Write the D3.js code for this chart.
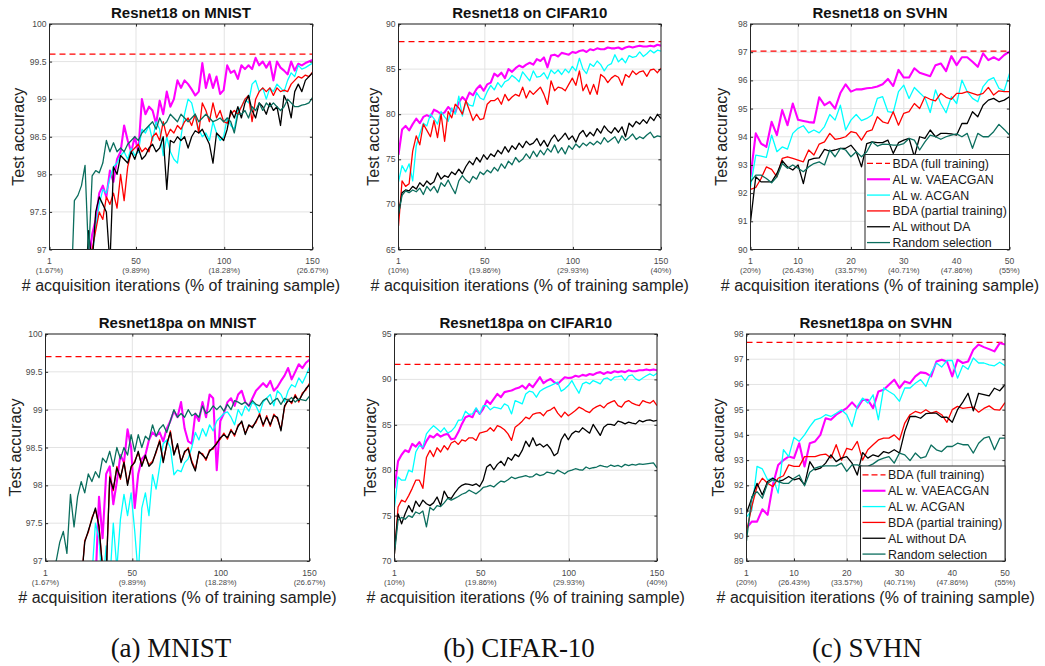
<!DOCTYPE html>
<html><head><meta charset="utf-8">
<script src="https://cdn.jsdelivr.net/npm/d3@7"></script>
<style>
body{margin:0;background:#fff;}
svg text{font-family:"Liberation Sans",Arial,Helvetica,sans-serif;}
</style></head><body>
<svg id="chart" width="1045" height="666"></svg>
<script>
// ---------- categories / tick labels ----------
const seriesNames = ["BDA (full training)","AL w. VAEACGAN","AL w. ACGAN","BDA (partial training)","AL without DA","Random selection"];
const iters150 = d3.range(75).map(i => 1 + i * 149 / 74);   // sampled acquisition iterations 1..150
const iters50 = d3.range(1, 51);                              // acquisition iterations 1..50
const xTicks150 = [1, 50, 100, 150];
const xTicks50 = [1, 10, 20, 30, 40, 50];
const pctMnist = ["(1.67%)","(9.89%)","(18.28%)","(26.67%)"];
const pctCifar = ["(10%)","(19.86%)","(29.93%)","(40%)"];
const pctSvhn = ["(20%)","(26.43%)","(33.57%)","(40.71%)","(47.86%)","(55%)"];
const yTicksMnist = [97, 97.5, 98, 98.5, 99, 99.5, 100];
const yTicksCifarTop = [65, 70, 75, 80, 85, 90];
const yTicksCifarBot = [70, 75, 80, 85, 90, 95];
const yTicksSvhnTop = [90, 91, 92, 93, 94, 95, 96, 97, 98];
const yTicksSvhnBot = [89, 90, 91, 92, 93, 94, 95, 96, 97, 98];

// ---------- Resnet18 on MNIST ----------
const p1Full = 99.6;
const p1Vae = [96,96,96,96,96,96,96,96,96,96,96,
96.8,97.2,97.4,97.75,97.85,97.7,98.05,97.9,98.2,98.3,
98.65,98.45,98.3,98.5,98.3,99.0,98.8,98.9,98.85,98.67,
98.98,98.8,99.1,98.9,99.0,99.25,99.15,99.25,99.2,99.13,
99.05,99.1,99.48,99.15,99.33,99.15,99.3,99.07,99.12,99.45,
99.35,99.38,99.27,99.45,99.4,99.45,99.4,99.55,99.45,99.5,
99.42,99.5,99.25,99.5,99.42,99.38,99.33,99.5,99.38,99.47,
99.45,99.48,99.5,99.52];
const p1Acgan = [96,96,96,96,96,96,96,96,96,96,96,96,
96.9,97.3,97.6,97.8,97.75,97.95,98.1,98.15,98.25,98.3,
98.2,98.35,98.25,98.3,98.6,98.55,98.65,98.45,98.7,98.6,
98.25,98.5,98.3,98.2,98.15,98.5,98.8,99.0,98.95,98.75,
98.6,98.5,98.55,98.45,98.7,98.55,98.45,98.5,98.75,98.65,
98.6,98.85,98.9,99.0,98.95,99.2,99.25,99.1,99.15,99.0,
99.15,99.1,99.2,99.15,99.1,99.25,99.35,99.3,99.45,99.4,
99.42,99.45,99.48];
const p1Bda = [96,96,96,96,96,96,96,96,96,96,96,
96.6,97.0,97.25,97.5,97.4,97.7,97.6,97.75,97.55,98.0,
97.65,98.1,98.3,98.35,98.4,98.3,98.35,98.3,98.5,98.55,
98.45,98.7,98.5,98.6,98.55,98.65,98.6,98.7,98.75,98.65,
98.8,98.55,98.95,98.85,98.7,98.95,98.75,98.85,98.7,98.68,
98.8,98.85,98.8,98.9,99.0,99.05,98.7,99.0,99.1,99.15,
99.1,99.15,99.05,99.15,99.1,99.12,99.1,99.2,99.25,99.3,
99.28,99.32,99.3,99.36];
const p1NoDa = [96,96,96,96,96,96,96,96,96,96,
96.4,97.25,96.8,97.5,97.7,97.6,97.5,96.8,98.1,98.0,
98.25,98.2,98.15,98.3,98.2,98.35,98.2,98.25,98.35,98.4,
98.3,98.35,98.5,97.8,98.45,98.42,98.5,98.45,98.5,98.35,
98.5,98.58,98.55,98.6,98.5,98.4,98.15,98.55,98.5,98.45,
98.6,98.85,98.75,98.9,98.75,98.95,99.05,98.85,98.75,98.95,
98.9,98.8,98.95,98.85,98.9,98.65,99.05,98.95,98.75,99.1,
99.2,99.1,99.25,99.3,99.35];
const p1Rand = [96,96,96,96,96,96,
96.3,97.65,97.72,97.85,98.12,96.9,97.98,98.05,98.02,
98.15,98.45,98.3,98.42,98.3,98.35,98.3,98.4,98.45,98.5,
98.45,98.55,98.6,98.65,98.7,98.6,98.75,98.65,98.7,98.8,
98.75,98.7,98.8,98.75,98.7,98.75,98.8,98.7,98.75,98.8,
98.75,98.7,98.72,98.75,98.7,98.75,98.7,98.55,98.8,98.8,
98.85,98.75,98.9,98.85,98.95,98.85,98.95,98.9,98.95,98.9,
98.85,98.9,99.0,98.95,98.9,98.9,98.92,98.93,98.95,99.02];

// ---------- Resnet18 on CIFAR10 ----------
const p2Full = 88.05;
const p2Vae = [75.5,78.3,78.7,78.2,78.9,79.5,79.0,79.7,79.9,79.7,
80.5,80.3,80.0,80.2,80.8,80.4,80.2,81.3,81.9,81.5,
82.4,82.1,82.8,83.2,82.6,83.3,83.5,84.5,84.2,84.6,
84.0,85.0,84.7,85.1,85.4,85.2,85.5,85.7,85.5,86.1,
85.9,86.3,85.2,86.5,86.6,86.4,86.8,86.7,86.6,86.9,
86.8,87.0,87.1,86.9,87.2,87.1,87.3,87.2,87.2,87.4,
87.3,87.3,87.4,87.2,87.4,87.5,87.4,87.5,87.6,87.5,
87.5,87.6,87.5,87.7,87.6];
const p2Acgan = [72.5,74.3,73.6,74.5,72.6,76.5,77.8,79.0,78.7,80.0,
79.5,78.9,80.3,79.7,79.2,80.7,80.0,82.0,79.8,81.4,
81.0,80.9,82.4,81.8,81.6,82.5,83.2,82.7,83.5,83.0,
83.6,83.8,84.3,84.0,83.6,84.7,84.2,83.7,84.8,84.1,
84.2,84.6,83.9,84.9,84.5,84.9,84.4,85.0,84.6,85.3,
84.8,86.2,85.0,84.5,85.6,85.3,85.9,85.5,84.8,85.4,
85.6,86.6,85.8,86.2,85.7,86.5,86.3,86.4,86.9,86.4,
86.7,87.1,86.8,87.1,87.0];
const p2Bda = [67.6,72.6,72.0,72.3,75.9,77.6,76.6,78.9,78.2,77.5,
79.3,77.4,80.0,77.0,80.3,79.6,81.1,80.7,80.0,81.5,
80.4,79.3,80.0,79.4,79.5,81.1,81.5,81.5,81.8,81.1,
82.2,81.5,81.9,82.2,82.0,83.0,81.8,82.6,82.2,82.6,
83.0,82.2,81.1,83.7,82.6,83.0,82.9,82.6,83.3,84.0,
83.2,84.8,82.6,83.3,82.2,83.3,82.2,84.4,84.1,83.5,
84.0,84.3,84.1,83.2,84.4,84.1,84.8,84.4,84.7,84.8,
84.2,84.9,85.0,84.6,85.1];
const p2NoDa = [68.9,71.3,71.6,71.5,72.0,71.7,72.4,72.0,72.6,72.2,
72.5,73.5,72.8,73.2,73.0,73.6,73.3,73.9,73.4,74.2,
74.8,74.4,75.2,74.7,75.5,75.0,75.6,75.3,76.0,75.6,
76.4,75.8,76.5,76.1,76.8,76.3,77.0,76.6,76.8,77.3,
76.5,77.1,76.4,77.2,77.7,77.0,77.4,77.9,77.2,77.6,
76.9,77.8,78.2,77.5,78.0,77.6,78.4,77.9,78.7,78.2,
77.9,78.5,78.0,78.6,77.5,79.0,78.6,79.2,78.9,79.4,
79.0,79.7,79.3,80.0,79.5];
const p2Rand = [68.9,71.0,71.5,71.3,71.6,71.4,71.8,71.1,72.0,71.5,
72.0,71.3,72.4,72.0,72.7,71.9,71.2,72.6,73.2,72.7,
72.4,73.1,72.8,73.6,73.3,73.8,73.5,74.1,73.7,74.5,
74.0,74.8,74.4,75.2,74.7,75.0,75.6,75.1,75.9,75.3,
76.0,75.5,76.2,75.8,76.6,75.7,76.3,75.6,76.5,76.1,
76.7,76.3,76.8,76.5,76.9,76.6,77.0,76.7,77.4,76.9,
77.2,77.5,76.8,77.6,77.1,77.4,77.8,77.2,77.5,77.3,
77.7,78.0,77.4,77.6,77.5];

// ---------- Resnet18 on SVHN ----------
const p3Full = 97.04;
const p3Vae = [92.58,94.12,93.76,93.64,94.53,94.06,94.95,94.41,95.18,94.6,
94.56,94.52,94.5,95.4,95.12,95.24,95.0,95.55,95.86,95.6,
95.68,95.68,95.72,95.74,95.78,95.86,96.05,95.8,96.37,96.1,
96.1,96.43,96.27,96.21,96.15,96.54,96.6,96.33,96.86,96.54,
96.82,96.82,96.66,96.48,96.96,96.72,96.82,96.72,96.9,97.02];
const p3Acgan = [92.22,93.35,93.31,93.27,94.06,93.47,93.64,93.56,94.12,94.3,
94.39,94.14,94.24,94.14,94.36,94.79,94.59,95.12,94.24,94.59,
94.79,94.57,94.65,94.77,95.36,95.42,94.89,94.86,95.6,95.83,
95.36,95.75,95.56,95.38,94.86,95.66,95.18,94.85,95.42,95.18,
96.01,95.6,95.36,95.24,95.78,96.01,96.1,95.72,95.63,96.25];
const p3Bda = [92.13,92.2,92.52,92.93,92.84,92.58,93.23,93.29,93.23,93.17,
93.11,93.53,93.35,93.74,93.82,94.12,93.91,93.94,94.0,94.18,
94.14,93.88,94.18,94.24,94.71,94.53,94.47,94.89,94.41,94.83,
94.89,95.18,95.0,95.42,95.33,95.27,95.54,95.4,95.33,95.54,
95.54,95.6,95.54,95.48,95.54,95.75,95.48,95.63,95.6,95.6];
const p3NoDa = [90.98,92.58,92.4,92.4,92.4,92.7,93.15,92.93,92.82,93.0,
92.34,93.17,93.23,93.25,93.55,93.49,93.53,93.59,93.59,93.7,
93.47,92.93,93.76,93.82,93.79,93.79,93.88,93.41,93.79,93.88,
93.94,93.29,94.0,93.94,94.24,94.0,94.12,94.12,94.1,94.06,
94.47,94.47,94.89,94.71,95.12,95.3,95.36,95.24,95.3,95.42];
const p3Rand = [92.4,92.64,92.64,92.52,92.37,92.58,93.05,92.88,93.0,92.88,
92.76,92.93,93.05,93.11,93.0,93.53,93.29,93.59,93.53,93.29,
93.47,93.29,93.47,93.82,93.67,93.74,93.73,93.7,93.7,93.76,
93.94,93.88,93.53,93.82,94.06,94.0,93.91,94.0,94.06,94.1,
94.0,94.12,93.59,94.12,94.0,94.0,94.18,94.44,94.26,94.06];

// ---------- Resnet18pa on MNIST ----------
const p4Full = 99.7;
const p4Vae = [96.5,96.5,96.5,96.5,96.5,96.5,96.5,96.5,96.5,96.5,96.5,96.5,96.5,96.5,
96.7,97.85,97.3,98.15,98.25,97.75,98.05,98.4,98.3,98.74,
98.5,97.7,98.15,98.35,98.4,98.6,98.7,98.65,98.7,98.58,
98.75,98.85,98.98,98.9,99.1,98.75,98.58,98.55,98.95,98.85,
99.1,98.9,99.2,99.15,98.2,98.85,98.95,99.1,99.15,99.05,
99.2,99.25,99.1,99.05,99.15,99.25,99.3,99.35,99.3,99.38,
99.25,99.3,99.38,99.45,99.55,99.4,99.5,99.6,99.55,99.62,
99.66];
const p4Acgan = [96.5,96.5,96.5,96.5,96.5,96.5,96.5,96.5,96.5,96.5,96.5,96.5,96.5,
96.8,97.5,97.3,96.6,97.2,96.7,97.5,96.9,97.55,97.88,
97.6,97.9,97.4,96.8,97.7,97.9,97.6,98.14,97.95,98.25,
98.55,98.6,98.5,98.14,98.2,98.18,98.3,98.35,98.5,98.7,
98.6,98.75,98.65,98.8,98.72,98.85,98.9,98.95,98.97,98.9,
98.8,99.0,98.92,99.05,98.98,99.1,99.05,98.95,99.1,99.15,
99.2,99.05,99.25,99.2,99.1,99.25,99.33,99.3,99.42,99.35,
99.45,99.56];
const p4Bda = [96.5,96.5,96.5,96.5,96.5,96.5,96.5,96.5,96.5,96.5,
96.7,97.27,97.38,97.57,97.68,97.47,96.9,96.8,98.12,97.93,
98.25,98.08,98.32,98.02,98.23,98.32,98.43,98.27,98.38,98.27,
98.32,98.43,98.6,98.32,98.53,98.72,98.42,98.53,98.32,98.43,
98.5,98.32,98.21,98.43,98.42,98.33,98.47,98.48,98.57,98.61,
98.69,98.61,98.74,98.65,98.8,98.83,98.69,98.78,98.78,98.83,
98.95,98.78,98.92,98.78,98.94,98.88,98.74,99.03,99.14,99.08,
99.2,99.1,99.22,99.26,99.35];
const p4NoDa = [96.5,96.5,96.5,96.5,96.5,96.5,96.5,96.5,96.5,96.5,
96.7,97.25,97.4,97.55,97.7,97.45,96.9,96.8,98.1,97.95,
98.23,98.1,98.3,98.0,98.25,98.3,98.45,98.25,98.4,98.25,
98.3,98.45,98.58,98.3,98.55,98.7,98.4,98.55,98.3,98.45,
98.48,98.3,98.19,98.45,98.4,98.35,98.45,98.5,98.55,98.63,
98.67,98.63,98.72,98.67,98.78,98.85,98.67,98.8,98.76,98.85,
98.93,98.8,98.9,98.8,98.92,98.9,98.72,99.05,99.12,99.1,
99.18,99.12,99.2,99.28,99.33];
const p4Rand = [96.5,96.6,96.8,97.0,97.25,97.39,97.1,97.88,97.45,97.85,
98.05,97.9,98.15,98.05,98.18,98.1,98.36,98.3,98.45,98.25,
98.5,98.35,98.5,98.4,98.67,98.45,98.67,98.5,98.65,98.6,
98.8,98.65,98.75,98.8,98.7,98.85,99.0,98.9,98.95,98.9,
99.0,98.92,98.95,98.9,99.05,98.95,98.98,99.05,99.0,99.05,
98.98,99.07,99.0,99.12,99.1,99.07,99.1,99.05,99.12,99.07,
99.05,99.12,99.15,99.07,99.12,99.15,99.07,99.15,99.12,99.16,
99.1,99.14,99.13,99.12,99.18];

// ---------- Resnet18pa on CIFAR10 ----------
const p5Full = 91.65;
const p5Vae = [78.0,81.0,81.7,82.2,82.0,82.9,82.6,83.1,82.4,83.2,
83.8,83.6,84.0,83.7,83.9,84.0,83.4,83.5,84.2,85.1,
85.84,86.0,85.84,86.76,86.2,86.76,87.67,87.3,87.86,88.4,
88.04,88.6,88.7,88.77,88.96,89.07,89.32,88.96,89.5,89.14,
89.7,90.24,89.58,89.87,90.05,89.7,89.5,89.87,90.24,90.16,
90.2,90.4,90.3,90.5,90.4,90.6,90.5,90.7,90.8,90.6,
90.8,90.7,90.9,90.8,90.9,90.8,91.0,90.9,90.9,91.0,
91.0,91.1,91.0,91.1,91.0];
const p5Acgan = [75.95,79.25,78.9,78.9,80.0,79.8,82.0,82.7,82.55,84.0,
84.5,84.9,84.56,84.2,84.67,84.1,84.3,84.74,85.5,85.55,
86.5,86.14,86.2,86.87,86.2,87.1,87.1,86.65,86.94,86.87,
86.76,87.3,87.1,86.2,87.67,87.5,87.3,88.4,88.7,88.6,
88.04,88.7,88.96,89.14,89.32,89.5,89.7,88.7,88.96,89.32,
89.87,89.14,88.48,89.5,89.7,89.5,89.87,89.7,89.5,90.05,
90.16,89.87,90.24,90.3,90.4,89.87,90.4,90.5,90.05,89.87,
90.16,90.4,90.6,90.4,90.68];
const p5Bda = [70.8,75.95,76.7,76.5,77.2,78.0,78.9,78.9,78.0,81.4,
82.18,81.5,82.47,82.0,82.7,82.25,83.0,83.2,82.84,83.35,
83.2,83.57,83.57,83.28,84.08,84.2,84.3,84.67,84.3,84.9,
84.74,84.45,84.0,83.28,84.74,85.04,85.4,85.84,85.66,86.14,
86.28,86.35,86.0,86.5,86.65,86.94,86.28,85.84,86.4,86.0,
86.28,86.57,86.94,86.76,86.5,86.35,86.76,87.0,87.16,86.87,
87.3,87.5,87.67,87.12,86.94,87.5,87.67,87.38,87.23,87.12,
87.67,87.5,87.38,87.67,87.12];
const p5NoDa = [71.2,75.2,74.1,75.2,76.1,75.4,76.6,76.0,76.7,76.3,
76.1,76.4,77.05,76.1,77.7,77.0,76.9,77.5,78.0,78.33,
78.5,78.44,78.33,78.5,78.2,78.9,80.35,80.64,80.05,80.64,
81.0,80.5,81.4,81.1,81.74,81.5,82.18,83.2,82.6,83.57,
82.7,82.9,82.55,82.84,82.36,81.6,81.9,83.35,84.0,83.35,
84.0,84.3,84.2,84.67,84.38,84.08,85.04,84.45,83.83,84.74,
85.04,85.04,84.93,85.4,85.3,85.1,85.3,85.18,85.1,85.48,
85.33,85.48,85.55,85.4,85.48];
const p5Rand = [70.8,74.5,74.8,74.6,75.0,74.8,75.4,75.2,75.5,73.75,
75.9,75.6,76.1,76.0,76.4,76.9,76.7,76.9,77.1,77.35,
77.5,77.8,77.6,77.4,77.7,78.1,78.2,78.33,78.15,78.5,
78.8,78.7,78.95,79.25,79.07,79.2,79.3,79.4,79.25,79.3,
79.6,79.4,79.5,79.8,79.7,79.6,80.0,79.8,79.6,79.9,
80.0,80.16,80.05,80.0,80.35,80.16,80.27,80.35,80.53,80.42,
80.35,80.57,80.42,80.53,80.35,80.64,80.5,80.64,80.57,80.7,
80.64,80.7,80.75,80.8,80.27];

// ---------- Resnet18pa on SVHN ----------
const p6Full = 97.67;
const p6Vae = [90.3,90.56,90.56,91.05,90.83,92.02,92.81,93.0,93.14,93.08,
93.67,92.75,93.67,93.74,94.0,94.66,94.6,94.8,94.93,95.06,
95.29,95.06,95.39,95.39,95.06,95.72,95.79,95.99,96.19,95.86,
96.12,96.05,96.32,96.48,96.45,96.32,96.91,96.98,96.91,96.32,
96.98,96.85,96.91,97.38,97.58,97.48,97.4,97.31,97.64,97.58];
const p6Acgan = [90.75,91.0,92.75,92.65,92.22,92.3,91.69,93.41,93.14,93.9,
93.74,94.0,94.33,94.6,94.66,94.8,94.73,94.86,95.0,94.8,
94.33,95.13,95.46,95.26,95.59,94.6,95.86,95.72,95.59,95.33,
95.86,95.86,96.05,96.19,95.92,96.45,96.85,96.69,96.95,96.95,
96.25,96.75,96.6,97.05,96.85,96.85,96.78,96.74,96.88,96.74];
const p6Bda = [90.15,91.16,91.95,92.28,92.08,91.95,92.28,92.38,92.81,92.75,
92.75,93.14,93.14,93.14,93.21,93.24,93.08,93.61,93.0,93.47,
93.41,93.74,93.0,93.41,93.61,93.8,93.87,93.87,94.0,93.8,
94.47,94.8,94.93,94.86,95.0,94.86,94.93,94.8,94.5,95.0,
95.13,95.05,95.08,95.1,94.9,95.05,95.15,95.0,94.98,95.28];
const p6NoDa = [90.9,91.49,92.08,91.62,92.15,92.28,92.15,92.22,92.35,92.22,
92.28,92.02,92.94,92.61,92.68,92.88,93.21,92.94,93.08,93.14,
92.88,92.41,93.3,93.08,93.21,93.14,93.34,93.28,93.41,93.28,
94.14,94.73,94.73,94.66,94.84,94.86,94.86,94.7,94.7,94.5,
95.0,95.3,95.65,94.95,95.65,95.6,95.55,95.85,95.75,95.99];
const p6Rand = [89.8,91.55,91.75,91.49,92.08,92.22,92.15,92.08,92.08,92.28,
92.41,91.98,92.52,92.68,92.75,92.77,92.77,92.77,92.88,92.55,
92.81,92.81,92.75,92.75,92.85,93.0,93.08,93.14,92.88,93.28,
93.21,92.98,93.28,93.08,93.14,93.6,93.41,93.34,93.54,93.54,
93.67,93.61,93.61,93.28,93.67,93.87,93.93,93.41,93.87,93.87];

// ---------- styles ----------
const colors = ["#ff0000", "#ff00ff", "#00ffff", "#ff0000", "#000000", "#0b6e5e"];
const widths = [1.2, 2.1, 1.3, 1.3, 1.3, 1.3];

const panels = [
  {id:1, title:"Resnet18 on MNIST", L:49.5, T:24, R:312.5, B:249.5, x:iters150, xd:[1,150], xt:xTicks150, pct:pctMnist, yd:[97,100], yt:yTicksMnist, full:p1Full, s:[p1Vae,p1Acgan,p1Bda,p1NoDa,p1Rand], legend:false, ylx:18.5},
  {id:2, title:"Resnet18 on CIFAR10", L:398.5, T:24, R:661, B:249.5, x:iters150, xd:[1,150], xt:xTicks150, pct:pctCifar, yd:[65,90], yt:yTicksCifarTop, full:p2Full, s:[p2Vae,p2Acgan,p2Bda,p2NoDa,p2Rand], legend:false, ylx:373.5},
  {id:3, title:"Resnet18 on SVHN", L:750.5, T:24, R:1009.5, B:249.5, x:iters50, xd:[1,50], xt:xTicks50, pct:pctSvhn, yd:[90,98], yt:yTicksSvhnTop, full:p3Full, s:[p3Vae,p3Acgan,p3Bda,p3NoDa,p3Rand], legend:true, ylx:721.5},
  {id:4, title:"Resnet18pa on MNIST", L:45.5, T:334, R:309.5, B:561, x:iters150, xd:[1,150], xt:xTicks150, pct:pctMnist, yd:[97,100], yt:yTicksMnist, full:p4Full, s:[p4Vae,p4Acgan,p4Bda,p4NoDa,p4Rand], legend:false, ylx:15},
  {id:5, title:"Resnet18pa on CIFAR10", L:394.5, T:334, R:657, B:561, x:iters150, xd:[1,150], xt:xTicks150, pct:pctCifar, yd:[70,95], yt:yTicksCifarBot, full:p5Full, s:[p5Vae,p5Acgan,p5Bda,p5NoDa,p5Rand], legend:false, ylx:370},
  {id:6, title:"Resnet18pa on SVHN", L:746.5, T:334, R:1005, B:561, x:iters50, xd:[1,50], xt:xTicks50, pct:pctSvhn, yd:[89,98], yt:yTicksSvhnBot, full:p6Full, s:[p6Vae,p6Acgan,p6Bda,p6NoDa,p6Rand], legend:true, ylx:718.5}
];

const svg = d3.select("#chart");
const axisCol = "#262626";
const tickTextCol = "#4a4a4a";

panels.forEach(p => {
  const g = svg.append("g");
  const x = d3.scaleLinear().domain(p.xd).range([p.L, p.R]);
  const y = d3.scaleLinear().domain(p.yd).range([p.B, p.T]);
  const w = p.R - p.L, h = p.B - p.T;

  // grid
  g.append("g").selectAll("line.gy").data(p.yt).join("line")
    .attr("x1", p.L).attr("x2", p.R).attr("y1", d => y(d)).attr("y2", d => y(d))
    .attr("stroke", "#e3e3e3").attr("stroke-width", 1);
  g.append("g").selectAll("line.gx").data(p.xt).join("line")
    .attr("x1", d => x(d)).attr("x2", d => x(d)).attr("y1", p.T).attr("y2", p.B)
    .attr("stroke", "#e3e3e3").attr("stroke-width", 1);

  // clip
  const cid = "clip" + p.id;
  svg.append("clipPath").attr("id", cid).append("rect")
    .attr("x", p.L).attr("y", p.T).attr("width", w).attr("height", h);
  const plot = g.append("g").attr("clip-path", `url(#${cid})`);

  // full-training dashed line
  plot.append("line")
    .attr("x1", x(p.xd[0])).attr("x2", x(p.xd[1]))
    .attr("y1", y(p.full)).attr("y2", y(p.full))
    .attr("stroke", colors[0]).attr("stroke-width", widths[0])
    .attr("stroke-dasharray", "6,4");

  const line = d3.line().x((d, i) => x(p.x[i])).y(d => y(d));
  p.s.forEach((vals, k) => {
    plot.append("path").datum(vals)
      .attr("d", line)
      .attr("fill", "none")
      .attr("stroke", colors[k + 1])
      .attr("stroke-width", widths[k + 1])
      .attr("stroke-linejoin", "round");
  });

  // axes box
  g.append("rect").attr("x", p.L).attr("y", p.T).attr("width", w).attr("height", h)
    .attr("fill", "none").attr("stroke", axisCol).attr("stroke-width", 1);

  // ticks via d3 axes (inner ticks)
  const tl = 2.6;
  const ax = d3.axisBottom(x).tickValues(p.xt).tickSize(-tl).tickFormat("");
  g.append("g").attr("transform", `translate(0,${p.B})`).call(ax)
    .call(s => s.select(".domain").remove())
    .call(s => s.selectAll("line").attr("stroke", axisCol));
  const axT = d3.axisTop(x).tickValues(p.xt).tickSize(-tl).tickFormat("");
  g.append("g").attr("transform", `translate(0,${p.T})`).call(axT)
    .call(s => s.select(".domain").remove())
    .call(s => s.selectAll("line").attr("stroke", axisCol));
  const ay = d3.axisLeft(y).tickValues(p.yt).tickSize(-tl).tickFormat("");
  g.append("g").attr("transform", `translate(${p.L},0)`).call(ay)
    .call(s => s.select(".domain").remove())
    .call(s => s.selectAll("line").attr("stroke", axisCol));
  const ayR = d3.axisRight(y).tickValues(p.yt).tickSize(-tl).tickFormat("");
  g.append("g").attr("transform", `translate(${p.R},0)`).call(ayR)
    .call(s => s.select(".domain").remove())
    .call(s => s.selectAll("line").attr("stroke", axisCol));

  // y tick labels
  g.append("g").selectAll("text").data(p.yt).join("text")
    .attr("x", p.L - 3).attr("y", d => y(d)).attr("dy", "0.35em")
    .attr("text-anchor", "end").attr("font-size", 8.6).attr("fill", tickTextCol)
    .text(d => String(d));
  // x tick labels (iteration + percentage)
  g.append("g").selectAll("text").data(p.xt).join("text")
    .attr("x", d => x(d)).attr("y", p.B + 14.5)
    .attr("text-anchor", "middle").attr("font-size", 8.6).attr("fill", tickTextCol)
    .text(d => String(d));
  g.append("g").selectAll("text").data(p.xt).join("text")
    .attr("x", d => x(d)).attr("y", p.B + 23.5)
    .attr("text-anchor", "middle").attr("font-size", 7.8).attr("fill", tickTextCol)
    .text((d, i) => p.pct[i]);

  // title
  g.append("text").attr("x", (p.L + p.R) / 2).attr("y", p.T - 6)
    .attr("text-anchor", "middle").attr("font-size", 15).attr("font-weight", "bold")
    .attr("fill", "#111").text(p.title);
  // axis labels
  g.append("text").attr("x", (p.L + p.R) / 2).attr("y", p.B + 41.5)
    .attr("text-anchor", "middle").attr("font-size", 16).attr("fill", "#222")
    .text("# acquisition iterations (% of training sample)");
  g.append("text")
    .attr("transform", `translate(${p.ylx},${(p.T + p.B) / 2}) rotate(-90)`)
    .attr("text-anchor", "middle").attr("dy", "0.35em")
    .attr("font-size", 16).attr("fill", "#222").text("Test accuracy");

  // legend
  if (p.legend) {
    const lw = 144.5, lh = 95;
    const lx = p.R - lw, ly = p.B - lh;
    const lg = g.append("g");
    lg.append("rect").attr("x", lx).attr("y", ly).attr("width", lw).attr("height", lh)
      .attr("fill", "#fff").attr("stroke", axisCol).attr("stroke-width", 1);
    const rowH = lh / 6;
    seriesNames.forEach((nm, k) => {
      const cy = ly + rowH * (k + 0.5) + 1;
      lg.append("line").attr("x1", lx + 2).attr("x2", lx + 25).attr("y1", cy).attr("y2", cy)
        .attr("stroke", colors[k]).attr("stroke-width", k === 1 ? 2.1 : 1.3)
        .attr("stroke-dasharray", k === 0 ? "6,3" : null);
      lg.append("text").attr("x", lx + 27.5).attr("y", cy).attr("dy", "0.36em")
        .attr("font-size", 12.4).attr("fill", "#1a1a1a").text(nm);
    });
  }
});

// sub-captions
const captions = [["(a) MNIST", 171], ["(b) CIFAR-10", 519], ["(c) SVHN", 867]];
svg.append("g").selectAll("text").data(captions).join("text")
  .attr("x", d => d[1]).attr("y", 657)
  .attr("text-anchor", "middle")
  .style("font-family", "'Liberation Serif','Times New Roman',serif")
  .attr("font-size", 27).attr("fill", "#111")
  .text(d => d[0]);
</script>
</body></html>
